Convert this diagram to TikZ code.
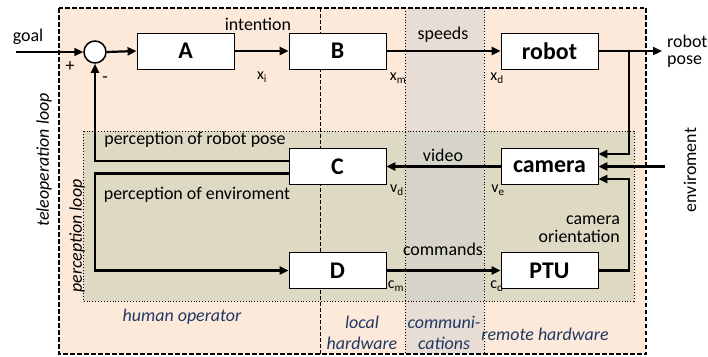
\documentclass[tikz,border=0pt]{standalone}
\usepackage{fontspec}
\setmainfont{Carlito}
\usetikzlibrary{arrows.meta, positioning, calc}
\definecolor{operpeach}{HTML}{FDE9D9}
\definecolor{percolive}{HTML}{DDD9C3}
\definecolor{commgrey}{HTML}{CFCFCF}
\definecolor{zoneblue}{HTML}{1F3864}
\tikzset{
  arr/.style={-{Triangle[length=9bp, width=8bp]}, line width=2.2bp},
  block/.style={rectangle, draw=black, fill=white, line width=0.8bp, minimum width=97bp, minimum height=36bp, inner sep=0pt, font=\fontsize{24}{26}\selectfont\bfseries},
  lbl/.style={font=\fontsize{18}{20}\selectfont, inner sep=1bp},
  subl/.style={font=\fontsize{16}{17}\selectfont, inner sep=0pt},
  zone/.style={font=\fontsize{18}{21}\selectfont\itshape, text=zoneblue, align=center, inner sep=0pt},
}

\begin{document}
\begin{tikzpicture}[x=1bp, y=1bp,
    loopname/.style={font=\fontsize{18}{20}\selectfont\itshape, rotate=90, inner sep=0pt}]
  \useasboundingbox (0,0) rectangle (708,-356);

  % Background zones
  \fill[operpeach] (59,-8) rectangle (646,-354);
  \fill[percolive] (83,-131) rectangle (634,-301);
  \fill[commgrey, opacity=0.45] (405,-8) rectangle (484,-354);
  \draw[dashed, line width=0.8bp, dash pattern=on 4bp off 2bp] (320,-8) -- (320,-354);
  \draw[dotted, line width=0.9bp] (405,-8) -- (405,-354);
  \draw[dotted, line width=0.9bp] (484,-8) -- (484,-354);
  \draw[dotted, line width=0.9bp] (83,-131) rectangle (634,-301);
  \draw[line width=1.5bp, dash pattern=on 4.5bp off 2.5bp] (59,-8) rectangle (646,-354);

  % Blocks
  \node[block] (A) at (185.5,-51) {A};
  \node[block] (B) at (337.5,-51) {B};
  \node[block] (robot) at (549.5,-51) {robot};
  \node[block] (C) at (337.5,-166.5) {C};
  \node[block] (camera) at (549.5,-166.5) {camera};
  \node[block] (D) at (337.5,-270.5) {D};
  \node[block] (PTU) at (549.5,-270.5) {PTU};
  \node[circle, draw=black, fill=white, line width=1.5bp, minimum size=22bp, inner sep=0pt] (sum) at (95,-52) {};

  % Free ends and corners
  \coordinate (goal) at (16,-52);
  \coordinate (pout) at (662,-51);
  \coordinate (br) at (629,-51);
  \coordinate (env) at (665,-166.5);
  \coordinate (pb) at (629,-270.5);
  \coordinate (pe) at (95,-270.5);

  % Forward path
  \draw[arr] (goal) -- (sum.west);
  \draw[arr] (sum.east) -- (A.west);
  \draw[arr] (A.east) -- (B.west);
  \draw[arr] (B.east) -- (robot.west);
  \draw[arr] (robot.east) -- (pout);
  \draw[arr] (br) |- ([yshift=12.5bp]camera.east);
  \draw[arr] (env) -- (camera.east);
  \draw[arr] (PTU.east) -- (pb) |- ([yshift=-12.5bp]camera.east);
  \draw[arr] (camera.west) -- (C.east);
  \draw[arr] ([yshift=5.5bp]C.west) -| (sum.south);
  \draw[arr] ([yshift=-7bp]C.west) -| (pe) -- (D.west);
  \draw[arr] (D.east) -- (PTU.west);

  % Signal labels
  \node[lbl] (lgoal) at (28,-37) {goal};
  \node[lbl] (lplus) at (70,-67) {+};
  \node[lbl] (lminus) at (105,-80) {-};
  \node[lbl] (lint) at (258,-24) {intention};
  \node[lbl] (lspd) at (443,-35) {speeds};
  \node[lbl, align=left, anchor=west] (lpose) at (666,-51) {robot\\[-3bp]pose};
  \node[lbl] (lvid) at (443,-155) {video};
  \node[lbl] (lcmd) at (443,-249) {commands};
  \node[lbl, align=right, anchor=east] (lori) at (621,-229) {camera\\[-2bp]orientation};
  \node[lbl] (lprp) at (195,-140) {perception of robot pose};
  \node[lbl] (lpre) at (197,-195) {perception of enviroment};
  \node[lbl, rotate=90] (lenv) at (690,-170) {enviroment};
  \node[subl] (xi) at (262,-77) {x\textsubscript{i}};
  \node[subl] (xm) at (398,-78) {x\textsubscript{m}};
  \node[subl] (xd) at (497,-78) {x\textsubscript{d}};
  \node[subl] (vd) at (397,-190) {v\textsubscript{d}};
  \node[subl] (ve) at (498,-190) {v\textsubscript{e}};
  \node[subl] (cm) at (396,-286) {c\textsubscript{m}};
  \node[subl] (cd) at (497,-286) {c\textsubscript{d}};

  % Loop and zone names
  \node[loopname] (tele) at (44,-160) {teleoperation loop};
  \node[loopname] (perc) at (77,-236) {perception loop};
  \node[zone] (human) at (182,-317) {human operator};
  \node[zone] (local) at (362,-333) {local\\hardware};
  \node[zone] (comm) at (444,-333) {communi-\\cations};
  \node[zone] (remote) at (545,-334) {remote hardware};
\end{tikzpicture}
\end{document}
